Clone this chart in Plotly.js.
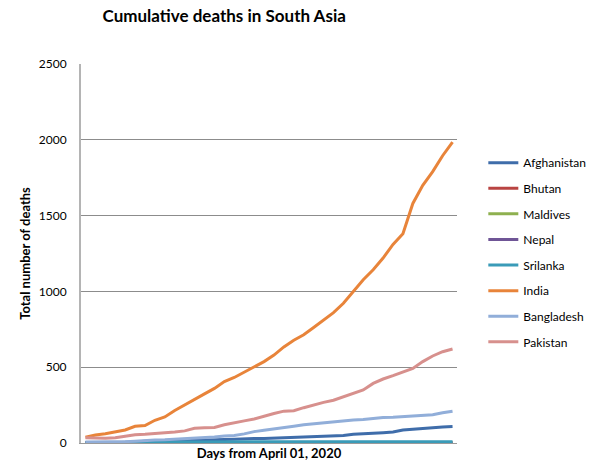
<!DOCTYPE html>
<html>
<head>
<meta charset="utf-8">
<script src="https://cdn.plot.ly/plotly-3.0.1.min.js"></script>
<style>html,body{margin:0;padding:0;background:#fff;}#chart{width:590px;height:468px;}</style>
</head>
<body>
<div id="chart"></div>
<script>
// Days from April 01, 2020 (day index)
var days = [0,1,2,3,4,5,6,7,8,9,10,11,12,13,14,15,16,17,18,19,20,21,22,23,24,25,26,27,28,29,30,31,32,33,34,35,36,37];

var afghanistan = [4,4,5,6,7,7,11,14,14,15,15,18,18,21,23,25,29,30,30,33,36,36,40,42,43,47,50,58,60,64,68,72,85,90,95,104,106,109];
var bhutan      = [0,0,0,0,0,0,0,0,0,0,0,0,0,0,0,0,0,0,0,0,0,0,0,0,0,0,0,0,0,0,0,0,0,0,0,0,0,0];
var maldives    = [0,0,0,0,0,0,0,0,0,0,0,0,0,0,0,0,0,0,0,0,0,0,0,0,0,0,0,0,1,1,1,1,1,1,1,1,1,1];
var nepal       = [0,0,0,0,0,0,0,0,0,0,0,0,0,0,0,0,0,0,0,0,0,0,0,0,0,0,0,0,0,0,0,0,0,0,0,0,0,0];
var srilanka    = [2,3,3,4,5,5,7,7,7,7,7,7,7,7,7,7,7,7,7,7,7,7,7,7,7,7,7,7,7,7,7,7,8,9,9,9,9,9];
var india       = [38,53,61,75,86,110,115,150,172,214,249,287,324,360,405,432,468,505,537,580,634,678,714,762,810,860,922,1000,1077,1143,1220,1310,1380,1580,1700,1790,1895,1985];
var bangladesh  = [6,6,6,8,9,12,17,20,21,24,27,30,34,39,46,50,60,75,84,91,101,110,120,127,131,140,145,152,155,163,168,170,175,177,182,186,199,210];
var pakistan    = [35,33,31,35,44,55,58,62,66,72,80,97,100,103,120,135,146,158,178,195,210,213,233,252,268,282,305,328,350,393,422,444,466,492,537,574,602,620];

var seriesNames  = ["Afghanistan","Bhutan","Maldives","Nepal","Srilanka","India","Bangladesh","Pakistan"];
var seriesValues = [afghanistan,bhutan,maldives,nepal,srilanka,india,bangladesh,pakistan];
var seriesColors = ["#3F6DAA","#B94442","#8EB04F","#6F5596","#3A9BB8","#E8843A","#91AED9","#D7908D"];

var traces = seriesNames.map(function(n,i){
  return {
    x: days, y: seriesValues[i], name: n, type: 'scatter', mode: 'lines',
    line: {color: seriesColors[i], width: 3},
    legendgroup: 'g'+i,
    hoverinfo: 'skip'
  };
});

var FONT = 'Lato, "Open Sans", sans-serif';

var layout = {
  width: 590, height: 468,
  margin: {l: 81, r: 133, t: 64, b: 25, autoexpand: false},
  paper_bgcolor: '#fff', plot_bgcolor: '#fff',
  font: {family: FONT, size: 12, color: '#000'},
  title: {text: '<b>Cumulative deaths in South Asia</b>', font: {family: FONT, size: 17, color: '#000'},
          x: 0.38, xanchor: 'center', y: 0.965, yanchor: 'middle'},
  xaxis: {
    range: [-0.45, 37.45], showticklabels: false, ticks: '', showgrid: false, zeroline: false,
    showline: true, linecolor: '#9A9A9A', linewidth: 1,
    title: {text: '<b>Days from April 01, 2020</b>', font: {family: FONT, size: 13, color: '#000'}, standoff: 5}
  },
  yaxis: {
    range: [0, 2500], dtick: 500, tick0: 0, ticks: '', showgrid: true, gridcolor: '#8C8C8C', gridwidth: 1,
    zeroline: false, showline: true, linecolor: '#B4B4B4', linewidth: 2,
    ticklabelstandoff: 10,
    tickfont: {family: FONT, size: 12, color: '#000'},
    title: {text: '<b>Total number of deaths</b>', font: {family: FONT, size: 13, color: '#000'}, standoff: 5}
  },
  showlegend: true,
  legend: {x: 1.07, y: 0.778, xanchor: 'left', yanchor: 'top', tracegroupgap: 6.6,
           font: {family: FONT, size: 12, color: '#000'}, itemwidth: 30, bgcolor: 'rgba(0,0,0,0)'}
};

Plotly.newPlot('chart', traces, layout, {displayModeBar: false, staticPlot: true});
</script>
</body>
</html>
